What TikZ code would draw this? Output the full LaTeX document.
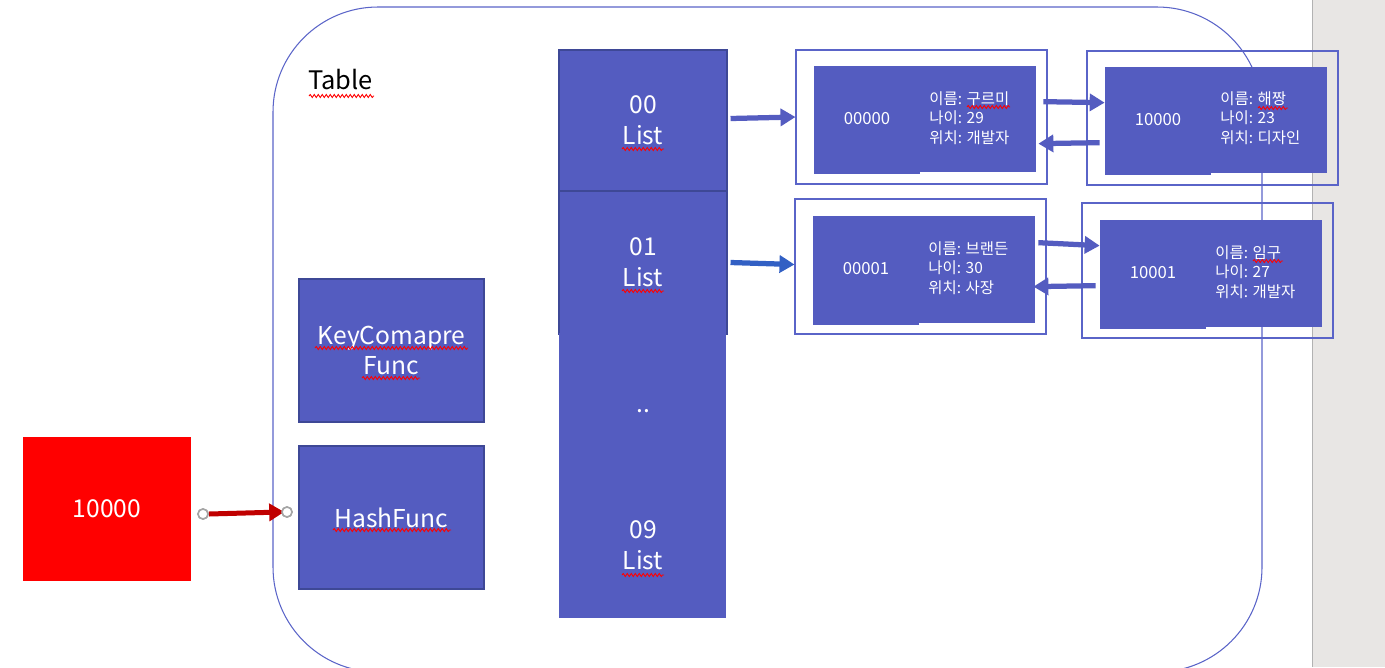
\documentclass[tikz,border=0pt]{standalone}
\usepackage{fontspec}
\newfontfamily\kr{Noto Sans CJK KR}
\usetikzlibrary{arrows.meta,calc,decorations.pathmorphing}
\definecolor{boxblue}{RGB}{84,92,192}
\definecolor{boxedge}{RGB}{62,72,150}
\definecolor{frameblue}{RGB}{90,100,200}
\definecolor{arrowblue}{RGB}{50,96,196}
\definecolor{darkred}{RGB}{192,0,0}
\definecolor{stripgray}{RGB}{232,230,228}
\definecolor{handlegray}{RGB}{165,165,165}
\tikzset{
  bluebox/.style={draw=boxedge,line width=0.6pt,fill=boxblue,text=white,inner sep=0pt,font=\kr\fontsize{14pt}{17.6pt}\selectfont,align=center},
  plainbox/.style={fill=boxblue,inner sep=0pt},
  frame/.style={draw=frameblue,line width=0.6pt,inner sep=0pt},
  keytext/.style={text=white,inner sep=0pt,font=\kr\fontsize{9.5pt}{11pt}\selectfont},
  datatext/.style={text=white,inner sep=0pt,font=\kr\fontsize{8.8pt}{11.2pt}\selectfont,align=left,anchor=west},
  fatarrow/.style={draw=boxblue,line width=1.05mm,-{Triangle[length=3mm,width=3.4mm]}},
  squig/.style={draw=red,line width=0.5pt,decorate,decoration={snake,segment length=0.8mm,amplitude=0.3mm}},
  handle/.style={circle,draw=handlegray,fill=white,line width=0.9pt,minimum size=2mm,inner sep=0pt},
}
\begin{document}
\begin{tikzpicture}[x=0.2mm,y=-0.2mm]
\useasboundingbox (0,0) rectangle (1385,667);
\clip (0,0) rectangle (1385,667);
% grey strip at the right
\fill[stripgray] (1312,0) rectangle (1385,667);
\draw[gray!60,line width=0.5pt] (1312,0) -- (1312,667);
% table outline
\draw[frameblue,line width=0.6pt,rounded corners=21mm] (273,7) rectangle (1262,672);
\node[anchor=west,inner sep=0pt,font=\kr\fontsize{14.5pt}{17pt}\selectfont] (tabletitle) at (308,80) {Table};
% function boxes
\node[bluebox,minimum width=37mm,minimum height=28.6mm] (keycmp) at (391.5,350.5) {KeyComapre\\Func};
\node[bluebox,minimum width=37mm,minimum height=28.6mm] (hash) at (391.5,517.5) {HashFunc};
% red key box
\node[fill=red,text=white,inner sep=0pt,minimum width=33.6mm,minimum height=28.8mm,font=\kr\fontsize{14pt}{17pt}\selectfont] (key) at (107,509) {10000};
% list column
\node[bluebox,minimum width=33.6mm,minimum height=28.2mm] (l00) at (643,120.5) {00\\List};
\node[bluebox,minimum width=33.6mm,minimum height=28.6mm] (l01) at (643,262.5) {01\\List};
\node[plainbox,minimum width=33.4mm,minimum height=57mm] (lrest) at (642.5,475.5) {};
\node[text=white,inner sep=0pt,font=\kr\fontsize{14pt}{17pt}\selectfont] (ldots) at (643,411) {..};
\node[text=white,inner sep=0pt,align=center,font=\kr\fontsize{14pt}{17.6pt}\selectfont] (l09) at (643,545) {09\\List};
% node frames
\node[frame,minimum width=50.2mm,minimum height=26.8mm] (fA) at (921.5,117) {};
\node[frame,minimum width=50.2mm,minimum height=26.8mm] (fB) at (1212.5,118) {};
\node[frame,minimum width=50.2mm,minimum height=27mm] (fC) at (920.5,266.5) {};
\node[frame,minimum width=50.2mm,minimum height=27mm] (fD) at (1207.5,270.5) {};
% node A
\node[plainbox,minimum width=21.2mm,minimum height=21.6mm] (kA) at (867,120) {};
\node[plainbox,minimum width=23.2mm,minimum height=21.2mm] (dA) at (978,119) {};
\node[keytext] (tkA) at (867,119) {00000};
\node[datatext] (tdA) at (929,118) {이름: 구르미\\나이: 29\\위치: 개발자};
% node B
\node[plainbox,minimum width=21.2mm,minimum height=21.6mm] (kB) at (1158,121) {};
\node[plainbox,minimum width=23.2mm,minimum height=21.2mm] (dB) at (1269,120) {};
\node[keytext] (tkB) at (1158,120) {10000};
\node[datatext] (tdB) at (1220,118) {이름: 해짱\\나이: 23\\위치: 디자인};
% node C
\node[plainbox,minimum width=21.2mm,minimum height=21.8mm] (kC) at (866,270.5) {};
\node[plainbox,minimum width=23.2mm,minimum height=21.4mm] (dC) at (977,269.5) {};
\node[keytext] (tkC) at (866,269) {00001};
\node[datatext] (tdC) at (928,268) {이름: 브랜든\\나이: 30\\위치: 사장};
% node D
\node[plainbox,minimum width=21.2mm,minimum height=21.8mm] (kD) at (1153,274.5) {};
\node[plainbox,minimum width=23.2mm,minimum height=21.4mm] (dD) at (1264,273.5) {};
\node[keytext] (tkD) at (1153,273) {10001};
\node[datatext] (tdD) at (1215,272) {이름: 임구\\나이: 27\\위치: 개발자};
% list -> first node arrows
\draw[fatarrow] ($(l00.east)+(3,-2)$) -- (fA.west);
\draw[fatarrow,draw=arrowblue] ($(l01.east)+(3,0)$) -- ($(fC.west)+(0,-2)$);
% links between nodes
\draw[fatarrow] ($(dA.north east)+(7,36)$) -- ($(kB.north west)+(0,36)$);
\draw[fatarrow] ($(kB.north west)+(-5,76)$) -- ($(dA.north east)+(2,78)$);
\draw[fatarrow] ($(dC.north east)+(3,27)$) -- ($(kD.north west)+(0,26)$);
\draw[fatarrow] ($(kD.north west)+(-4,66)$) -- ($(dC.north east)+(-2,71)$);
% key -> hash function arrow
\node[handle] (hs) at (203,514) {};
\node[handle] (he) at (287,512) {};
\draw[darkred,line width=1mm,-{Triangle[length=3mm,width=3.4mm]},shorten >=-0.6mm] (hs.east) -- (he.west);
\node[handle] at (hs) {};
\node[handle] at (he) {};
% spell-check underlines
\draw[squig] (309,96) -- (374,96);
\draw[squig] (315,348) -- (468,348);
\draw[squig] (362,378) -- (420,378);
\draw[squig] (333,530) -- (451,530);
\draw[squig] (622,149) -- (664,149);
\draw[squig] (622,291) -- (664,291);
\draw[squig] (622,575) -- (664,575);
\draw[squig] (967,107) -- (1010,107);
\draw[squig] (1258,108) -- (1288,108);
\draw[squig] (1253,261) -- (1283,261);
\end{tikzpicture}
\end{document}
